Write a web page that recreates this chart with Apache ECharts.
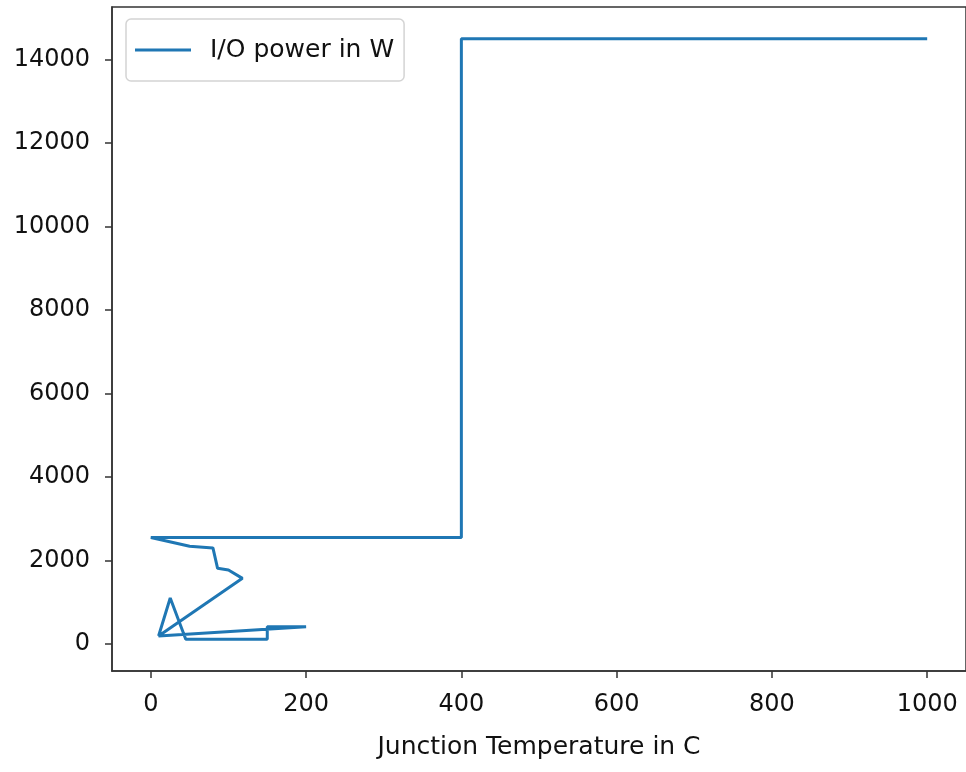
<!DOCTYPE html>
<html>
<head>
<meta charset="utf-8">
<script src="https://cdn.jsdelivr.net/npm/echarts@6/dist/echarts.min.js"></script>
<style>html,body{margin:0;padding:0;background:#fff;}#c{width:966px;height:772px;}</style>
</head>
<body>
<div id="c"></div>
<script>
// Data (path order as plotted)
const temps = [10, 25, 45, 150, 150, 200, 10, 118, 100, 86, 80, 50, 0, 400, 400, 1000];
const power = [190, 1100, 110, 110, 410, 410, 190, 1570, 1770, 1810, 2300, 2340, 2550, 2550, 14500, 14500];
const xTicks = [0, 200, 400, 600, 800, 1000];
const yTicks = [0, 2000, 4000, 6000, 8000, 10000, 12000, 14000];
const seriesName = 'I/O power in W';
const xName = 'Junction Temperature in C';

const points = temps.map((t, i) => [t, power[i]]);
const font = 'DejaVu Sans';
const chart = echarts.init(document.getElementById('c'), null, {renderer: 'canvas'});
chart.setOption({
  animation: false,
  backgroundColor: '#fff',
  grid: {left: 112, top: 7, width: 857, height: 664, show: true, borderColor: '#333', borderWidth: 1.5, backgroundColor: 'transparent'},
  legend: {
    left: 126, top: 19, orient: 'horizontal',
    backgroundColor: '#fff', borderColor: '#d4d4d4', borderWidth: 1.5, borderRadius: 5,
    padding: [15, 10, 15, 9],
    itemWidth: 56, itemHeight: 3, icon: 'rect',
    textStyle: {fontSize: 25, fontFamily: font, color: '#111', lineHeight: 32, padding: [0, 0, 0, 14]},
    data: [seriesName]
  },
  xAxis: {
    type: 'value', min: -50, max: 1050,
    name: xName, nameLocation: 'middle', nameGap: 64,
    nameTextStyle: {fontSize: 25, fontFamily: font, color: '#111'},
    axisLine: {show: true, onZero: false, lineStyle: {color: '#333', width: 1.5}},
    axisTick: {show: true, inside: false, length: 7, lineStyle: {color: '#333', width: 1.5}, customValues: xTicks},
    axisLabel: {fontSize: 24, fontFamily: font, color: '#111', margin: 22, customValues: xTicks, formatter: v => String(v)},
    splitLine: {show: false}
  },
  yAxis: {
    type: 'value', min: -650, max: 15260,
    axisLine: {show: true, onZero: false, lineStyle: {color: '#333', width: 1.5}},
    axisTick: {show: true, inside: false, length: 7, lineStyle: {color: '#333', width: 1.5}, customValues: yTicks},
    axisLabel: {fontSize: 24, fontFamily: font, color: '#111', margin: 22, customValues: yTicks, formatter: v => String(v)},
    splitLine: {show: false}
  },
  series: [{
    name: seriesName, type: 'line', data: points,
    showSymbol: false, symbol: 'none', smooth: false,
    lineStyle: {color: '#1f77b4', width: 3},
    itemStyle: {color: '#1f77b4'}
  }]
});
</script>
</body>
</html>
